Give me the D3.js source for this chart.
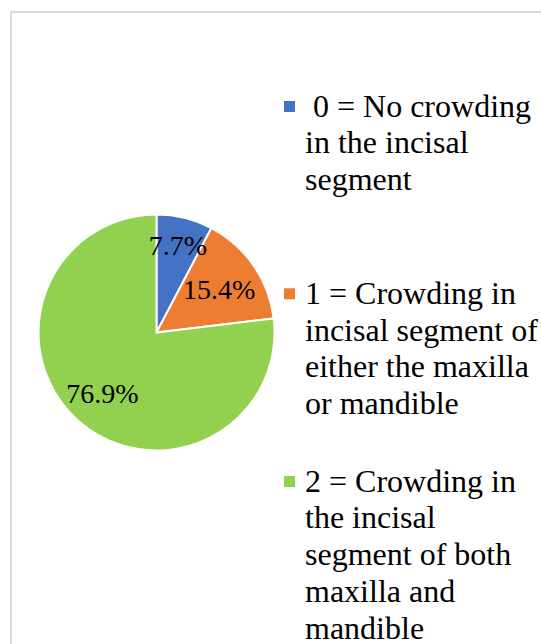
<!DOCTYPE html>
<html><head><meta charset="utf-8"><script src="https://cdn.jsdelivr.net/npm/d3@7"></script></head>
<body style="margin:0;background:#ffffff">
<svg id="chart" width="541" height="644" style="display:block"></svg>
<script>
// Crowding score categories and their shares (%)
const categories = ["0", "1", "2"];
const shares = [7.7, 15.4, 76.9];
const legendLines = [
  [" 0 = No crowding", "in the incisal", "segment"],
  ["1 = Crowding in", "incisal segment of", "either the maxilla", "or mandible"],
  ["2 = Crowding in", "the incisal", "segment of both", "maxilla and", "mandible"]
];
const colors = ["#4472C4", "#ED7D31", "#92D050"];

const FONT = '"Liberation Serif", "Times New Roman", serif';
const svg = d3.select("#chart").style("font-family", FONT);

// chart area frame (continues past the right and bottom edges)
svg.append("rect")
  .attr("x", 11).attr("y", 12)
  .attr("width", 700).attr("height", 800)
  .attr("fill", "#ffffff")
  .attr("stroke", "#d9d9d9")
  .attr("stroke-width", 2);

const cx = 156.5, cy = 332.5, R = 118;

const pie = d3.pie().sort(null).value(d => d)(shares);
const arc = d3.arc().innerRadius(0).outerRadius(R);
const color = d3.scaleOrdinal().domain(categories).range(colors);

const g = svg.append("g").attr("transform", `translate(${cx},${cy})`);

g.selectAll("path.slice")
  .data(pie)
  .join("path")
  .attr("class", "slice")
  .attr("d", arc)
  .attr("fill", (d, i) => color(categories[i]))
  .attr("stroke", "#ffffff")
  .attr("stroke-width", 2)
  .attr("stroke-linejoin", "miter");

// data labels placed inside each slice
const labelRadiusFactor = [0.76, 0.645, 0.69];
g.selectAll("text.pct")
  .data(pie)
  .join("text")
  .attr("class", "pct")
  .attr("transform", (d, i) => {
    const r = R * labelRadiusFactor[i];
    const c = d3.arc().innerRadius(r).outerRadius(r).centroid(d);
    return `translate(${c[0]},${c[1]})`;
  })
  .attr("text-anchor", "middle")
  .attr("dy", "0.35em")
  .style("font-family", FONT)
  .style("font-size", "28px")
  .style("fill", "#000000")
  .text(d => d.value.toFixed(1) + "%");

// legend
const legendX = 305;
const lineH = 36.8;
const firstBaselines = [116.5, 303.8, 491.5];
const legend = svg.append("g");

legendLines.forEach((lines, i) => {
  const y0 = firstBaselines[i];
  legend.append("rect")
    .attr("x", 284).attr("y", y0 - 15.5)
    .attr("width", 11).attr("height", 11)
    .attr("fill", colors[i]);
  const t = legend.append("text")
    .style("font-family", FONT)
    .style("font-size", "32px")
    .style("fill", "#000000")
    .attr("xml:space", "preserve");
  lines.forEach((ln, j) => {
    t.append("tspan")
      .attr("x", legendX)
      .attr("y", y0 + j * lineH)
      .text(ln);
  });
});
</script>
</body></html>
